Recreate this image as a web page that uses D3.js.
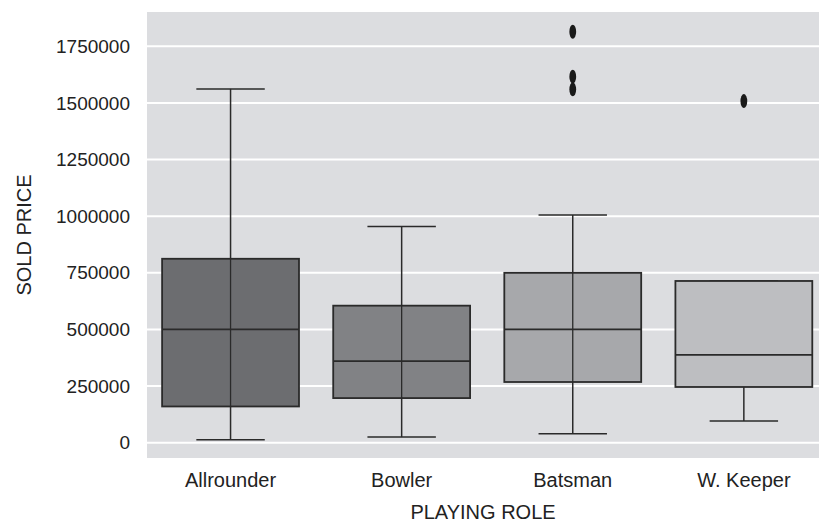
<!DOCTYPE html>
<html>
<head>
<meta charset="utf-8">
<script src="https://cdn.jsdelivr.net/npm/d3@7"></script>
<style>
  html, body { margin: 0; padding: 0; background: #fff; }
  svg { display: block; }
  text { font-family: "Liberation Sans", Arial, Helvetica, sans-serif; fill: #222; }
</style>
</head>
<body>
<svg id="chart" width="819" height="527"></svg>
<script>
// Sold price distribution by playing role
const categories   = ["Allrounder", "Bowler", "Batsman", "W. Keeper"];
const whiskerLow   = [13000, 25000, 40000, 96000];
const q1           = [160000, 197000, 268000, 246000];
const median       = [500000, 360000, 500000, 388000];
const q3           = [812000, 605000, 750000, 714000];
const whiskerHigh  = [1562000, 954000, 1005000, 714000];
const outlierRole  = ["Batsman", "Batsman", "Batsman", "W. Keeper"];
const outlierValue = [1814000, 1616000, 1560000, 1508000];
const yTicks       = [0, 250000, 500000, 750000, 1000000, 1250000, 1500000, 1750000];
const fills        = ["#6c6d70", "#818285", "#a7a8ab", "#bdbec1"];

const svg = d3.select("#chart");
const plot = { left: 147, top: 12, right: 819, bottom: 458 };

const x = d3.scaleBand().domain(categories).range([145, 829.4]).padding(0);
const y = d3.scaleLinear().domain([-67500, 1901400]).range([plot.bottom, plot.top]);

// panel background
svg.append("rect")
  .attr("x", plot.left).attr("y", plot.top)
  .attr("width", plot.right - plot.left).attr("height", plot.bottom - plot.top)
  .attr("fill", "#dcdde0");

// horizontal grid lines
svg.append("g").selectAll("line").data(yTicks).join("line")
  .attr("x1", plot.left).attr("x2", plot.right)
  .attr("y1", d => y(d)).attr("y2", d => y(d))
  .attr("stroke", "#fff").attr("stroke-width", 2);

// y axis tick labels
const yAxis = d3.axisLeft(y).tickValues(yTicks).tickSize(0).tickPadding(0)
  .tickFormat(d3.format("d"));
const gy = svg.append("g").attr("transform", `translate(130,0)`).call(yAxis);
gy.select(".domain").remove();
gy.selectAll("text").attr("font-size", 19).attr("fill", "#222")
  .style("font-family", '"Liberation Sans", Arial, sans-serif');

// x axis tick labels
const xAxis = d3.axisBottom(x).tickSize(0).tickPadding(0);
const gx = svg.append("g").attr("transform", `translate(0,472.5)`).call(xAxis);
gx.select(".domain").remove();
gx.selectAll("text").attr("font-size", 20).attr("fill", "#222")
  .style("font-family", '"Liberation Sans", Arial, sans-serif');

// axis titles
svg.append("text")
  .attr("x", 483).attr("y", 519)
  .attr("text-anchor", "middle").attr("font-size", 20)
  .text("PLAYING ROLE");
svg.append("text")
  .attr("transform", `translate(31,${(plot.top + plot.bottom) / 2}) rotate(-90)`)
  .attr("text-anchor", "middle").attr("font-size", 20)
  .text("SOLD PRICE");

// boxes
const stroke = "#2a2a2a";
const bw = x.bandwidth();
const boxes = categories.map((c, i) => ({
  c, lo: whiskerLow[i], q1: q1[i], med: median[i], q3: q3[i], hi: whiskerHigh[i], fill: fills[i]
}));

const g = svg.append("g");
boxes.forEach(b => {
  const cx = x(b.c) + bw / 2;
  const half = bw * 0.4;
  const capHalf = bw * 0.2;
  // whiskers
  if (b.hi > b.q3) {
    g.append("line").attr("x1", cx).attr("x2", cx).attr("y1", y(b.q3)).attr("y2", y(b.hi))
      .attr("stroke", stroke).attr("stroke-width", 1.5);
  }
  g.append("line").attr("x1", cx).attr("x2", cx).attr("y1", y(b.q1)).attr("y2", y(b.lo))
    .attr("stroke", stroke).attr("stroke-width", 1.5);
  g.append("line").attr("x1", cx - capHalf).attr("x2", cx + capHalf).attr("y1", y(b.hi)).attr("y2", y(b.hi))
    .attr("stroke", stroke).attr("stroke-width", 1.5);
  g.append("line").attr("x1", cx - capHalf).attr("x2", cx + capHalf).attr("y1", y(b.lo)).attr("y2", y(b.lo))
    .attr("stroke", stroke).attr("stroke-width", 1.5);
  // box
  g.append("rect")
    .attr("x", cx - half).attr("y", y(b.q3))
    .attr("width", 2 * half).attr("height", y(b.q1) - y(b.q3))
    .attr("fill", b.fill).attr("stroke", stroke).attr("stroke-width", 1.8);
  // the whisker line runs through the box when there is an upper whisker
  if (b.hi > b.q3) {
    g.append("line").attr("x1", cx).attr("x2", cx).attr("y1", y(b.q3)).attr("y2", y(b.q1))
      .attr("stroke", stroke).attr("stroke-width", 1.3);
  }
  // median
  g.append("line").attr("x1", cx - half).attr("x2", cx + half).attr("y1", y(b.med)).attr("y2", y(b.med))
    .attr("stroke", stroke).attr("stroke-width", 1.8);
});

// outliers
g.selectAll("ellipse").data(outlierValue).join("ellipse")
  .attr("cx", (d, i) => x(outlierRole[i]) + bw / 2)
  .attr("cy", d => y(d))
  .attr("rx", 3.4).attr("ry", 7)
  .attr("fill", "#1a1a1a");
</script>
</body>
</html>
